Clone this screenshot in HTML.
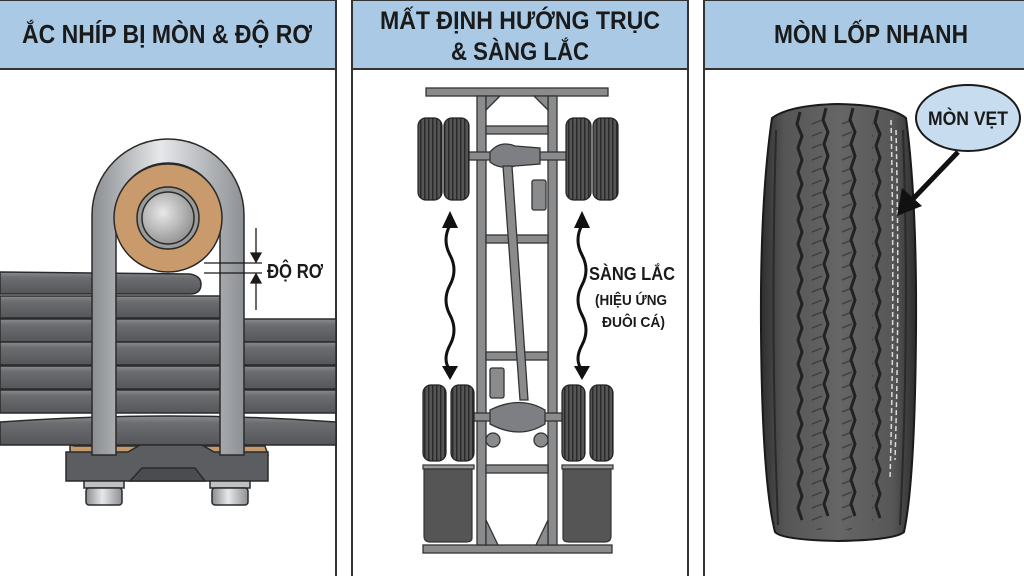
<!DOCTYPE html>
<html><head><meta charset="utf-8"><style>
html,body{margin:0;padding:0;background:#fff;}
svg{display:block;}
text{font-family:"Liberation Sans","Noto Sans CJK SC",sans-serif;font-weight:bold;fill:#1a1a1a;}
</style></head><body>
<svg width="1024" height="576" viewBox="0 0 1024 576" xmlns="http://www.w3.org/2000/svg">
<defs>
<linearGradient id="bolt" x1="0" x2="1"><stop offset="0" stop-color="#8a8d91"/><stop offset="0.45" stop-color="#e6e8ea"/><stop offset="1" stop-color="#8d9094"/></linearGradient>
<linearGradient id="leaf" x1="0" y1="0" x2="0" y2="1"><stop offset="0" stop-color="#8a8c8f"/><stop offset="0.25" stop-color="#6b6d70"/><stop offset="1" stop-color="#545659"/></linearGradient>
<linearGradient id="tire" x1="0" x2="1"><stop offset="0" stop-color="#2e2e2e"/><stop offset="0.15" stop-color="#555"/><stop offset="0.5" stop-color="#666"/><stop offset="0.85" stop-color="#575757"/><stop offset="1" stop-color="#2e2e2e"/></linearGradient>
<radialGradient id="pin" cx="0.4" cy="0.4" r="0.7"><stop offset="0" stop-color="#e8e8e8"/><stop offset="1" stop-color="#8a8a8a"/></radialGradient>
<pattern id="tread" width="4" height="10" patternUnits="userSpaceOnUse"><rect width="4" height="10" fill="#555"/><rect width="1.5" height="10" fill="#2a2a2a"/></pattern>
<pattern id="blocks" width="30" height="24" patternUnits="userSpaceOnUse"><path d="M2 4 L12 0 M2 16 L12 12" stroke="#333" stroke-width="1.5" fill="none"/></pattern>
</defs>

<rect x="-2" y="0" width="338" height="578" fill="#fff" stroke="#333" stroke-width="2"/>
<rect x="352" y="0" width="336" height="578" fill="#fff" stroke="#333" stroke-width="2"/>
<rect x="704" y="0" width="322" height="578" fill="#fff" stroke="#333" stroke-width="2"/>
<rect x="-2" y="0" width="338" height="69" fill="#a9c9e5" stroke="#333" stroke-width="2"/>
<rect x="352" y="0" width="336" height="69" fill="#a9c9e5" stroke="#333" stroke-width="2"/>
<rect x="704" y="0" width="322" height="69" fill="#a9c9e5" stroke="#333" stroke-width="2"/>
<text x="167" y="43" font-size="26" text-anchor="middle" textLength="290" lengthAdjust="spacingAndGlyphs">ẮC NHÍP BỊ MÒN &amp; ĐỘ RƠ</text>
<text x="520" y="29" font-size="25" text-anchor="middle" textLength="280" lengthAdjust="spacingAndGlyphs">MẤT ĐỊNH HƯỚNG TRỤC</text>
<text x="520" y="60" font-size="25" text-anchor="middle" textLength="138" lengthAdjust="spacingAndGlyphs">&amp; SÀNG LẮC</text>
<text x="871" y="43" font-size="26" text-anchor="middle" textLength="194" lengthAdjust="spacingAndGlyphs">MÒN LỐP NHANH</text>

<g stroke="#2a2a2a" stroke-width="1.5">
<path d="M0 272 L190 274 Q201 276 201 284 Q201 294 190 294 L0 294 Z" fill="url(#leaf)"/>
<rect x="0" y="296" width="220" height="22" fill="url(#leaf)"/>
<rect x="0" y="319" width="336" height="23" fill="url(#leaf)"/>
<rect x="0" y="342" width="336" height="23" fill="url(#leaf)"/>
<rect x="0" y="366" width="336" height="23" fill="url(#leaf)"/>
<rect x="0" y="390" width="336" height="23" fill="url(#leaf)"/>
<path d="M0 422 Q170 410 336 422 L336 445 L0 445 Z" fill="url(#leaf)"/>
<path d="M70 445 L75 446 L265 446 L268 455 L70 455 Z" fill="#c49a6c"/>
<path d="M66 452 L128 452 L140 445 L202 445 L214 452 L268 452 L268 481 L66 481 Z" fill="#5b5d60"/>
<path d="M130 481 L142 468 L195 468 L205 481 Z" fill="#4a4c4f"/>
<rect x="84" y="481" width="40" height="7" fill="#bfc1c3"/>
<rect x="86" y="488" width="36" height="17" rx="3" fill="url(#bolt)"/>
<rect x="210" y="481" width="40" height="7" fill="#bfc1c3"/>
<rect x="212" y="488" width="36" height="17" rx="3" fill="url(#bolt)"/>
<path d="M92 455 L92 215 A76 76 0 0 1 244 215 L244 455 L220 455 L220 215 A52 52 0 0 0 116 215 L116 455 Z" fill="url(#bolt)"/>
<circle cx="168" cy="218" r="54" fill="#c99b6c"/>
<circle cx="168" cy="218" r="31" fill="#9a9a9a"/>
<circle cx="168" cy="218" r="26" fill="url(#pin)"/>
</g>
<g stroke="#1a1a1a" stroke-width="1.3" fill="#1a1a1a">
<line x1="204" y1="263" x2="262" y2="263"/>
<line x1="204" y1="273" x2="262" y2="273"/>
<line x1="256" y1="228" x2="256" y2="260"/>
<path d="M251 253 L256 262 L261 253 Z"/>
<line x1="256" y1="276" x2="256" y2="310"/>
<path d="M251 283 L256 274 L261 283 Z"/>
</g>
<text x="267" y="278" font-size="20" textLength="56" lengthAdjust="spacingAndGlyphs">ĐỘ RƠ</text>

<g stroke="#333" stroke-width="1.3" fill="#8a8b8d">
<rect x="426" y="88" width="182" height="8"/>
<rect x="423" y="545" width="189" height="8"/>
<rect x="477" y="96" width="9" height="449"/>
<rect x="548" y="96" width="9" height="449"/>
<rect x="486" y="126" width="62" height="8"/>
<rect x="486" y="235" width="62" height="8"/>
<rect x="486" y="352" width="62" height="8"/>
<rect x="486" y="465" width="62" height="8"/>
<path d="M486 96 L500 96 L486 110 Z M548 96 L534 96 L548 110 Z M486 520 L498 545 L486 545 Z M548 520 L536 545 L548 545 Z"/>
<rect x="466" y="152" width="102" height="8"/>
<path d="M490 152 Q500 140 515 146 L540 148 L540 164 L515 166 Q500 170 490 162 Z" fill="#7e7f82"/>
<path d="M503 166 L512 166 L528 400 L520 400 Z"/>
<rect x="532" y="180" width="14" height="30" rx="2"/>
<rect x="470" y="413" width="96" height="8"/>
<path d="M490 410 Q520 395 545 410 L545 424 Q520 440 490 424 Z" fill="#7e7f82"/>
<circle cx="493" cy="440" r="7"/><circle cx="541" cy="440" r="7"/>
<rect x="490" y="368" width="14" height="30" rx="2"/>
</g>
<g stroke="#222" stroke-width="1.2" fill="url(#tread)">
<rect x="418" y="118" width="24" height="82" rx="8"/>
<rect x="444" y="118" width="25" height="82" rx="8"/>
<rect x="566" y="118" width="25" height="82" rx="8"/>
<rect x="593" y="118" width="25" height="82" rx="8"/>
<rect x="423" y="385" width="23" height="76" rx="8"/>
<rect x="451" y="385" width="23" height="76" rx="8"/>
<rect x="562" y="385" width="23" height="76" rx="8"/>
<rect x="590" y="385" width="23" height="76" rx="8"/>
</g>
<g stroke="#333" stroke-width="1.2">
<rect x="423" y="465" width="51" height="4" fill="#999"/>
<rect x="562" y="465" width="51" height="4" fill="#999"/>
<path d="M424 469 L472 469 L472 538 Q472 542 466 542 L430 542 Q424 542 424 536 Z" fill="#555"/>
<path d="M563 469 L611 469 L611 536 Q611 542 605 542 L569 542 Q563 542 563 538 Z" fill="#555"/>
</g>
<g fill="none" stroke="#111" stroke-width="3">
<path d="M450 225 Q442 240 450 255 Q458 270 450 285 Q442 300 450 315 Q458 330 450 345 Q442 360 450 370"/>
<path d="M582 225 Q574 240 582 255 Q590 270 582 285 Q574 300 582 315 Q590 330 582 345 Q574 360 582 370"/>
</g>
<g fill="#111">
<path d="M442 228 L450 211 L458 228 Z"/><path d="M442 366 L450 380 L458 366 Z"/>
<path d="M574 228 L582 211 L590 228 Z"/><path d="M574 366 L582 380 L590 366 Z"/>
</g>
<text x="589" y="280" font-size="18" textLength="86" lengthAdjust="spacingAndGlyphs">SÀNG LẮC</text>
<text x="595" y="305" font-size="15" textLength="72" lengthAdjust="spacingAndGlyphs">(HIỆU ỨNG</text>
<text x="602" y="327" font-size="15" textLength="63" lengthAdjust="spacingAndGlyphs">ĐUÔI CÁ)</text>

<path d="M772 118 Q790 105 838 104 Q890 105 906 118 Q917 200 916 330 Q915 480 904 532 Q895 540 838 541 Q782 540 775 532 Q762 480 761 330 Q760 200 772 118 Z" fill="url(#tire)" stroke="#1a1a1a" stroke-width="2"/>
<rect x="803" y="115" width="70" height="415" fill="url(#blocks)" opacity="0.7"/>
<g fill="none" stroke="#222" stroke-width="3">
<path d="M800 112 l-3 12 l5 12 l-4 12 l4 12 l-4 12 l4 12 l-4 12 l4 12 l-4 12 l4 12 l-4 12 l4 12 l-4 12 l4 12 l-4 12 l4 12 l-4 12 l4 12 l-4 12 l4 12 l-4 12 l4 12 l-4 12 l4 12 l-4 12 l4 12 l-4 12 l4 12 l-4 12 l4 12 l-4 12 l4 12 l-4 12 l4 12"/>
<path d="M826 108 l-3 12 l5 12 l-4 12 l4 12 l-4 12 l4 12 l-4 12 l4 12 l-4 12 l4 12 l-4 12 l4 12 l-4 12 l4 12 l-4 12 l4 12 l-4 12 l4 12 l-4 12 l4 12 l-4 12 l4 12 l-4 12 l4 12 l-4 12 l4 12 l-4 12 l4 12 l-4 12 l4 12 l-4 12 l4 12 l-4 12 l4 12"/>
<path d="M853 108 l-3 12 l5 12 l-4 12 l4 12 l-4 12 l4 12 l-4 12 l4 12 l-4 12 l4 12 l-4 12 l4 12 l-4 12 l4 12 l-4 12 l4 12 l-4 12 l4 12 l-4 12 l4 12 l-4 12 l4 12 l-4 12 l4 12 l-4 12 l4 12 l-4 12 l4 12 l-4 12 l4 12 l-4 12 l4 12 l-4 12 l4 12"/>
<path d="M878 110 l-3 12 l5 12 l-4 12 l4 12 l-4 12 l4 12 l-4 12 l4 12 l-4 12 l4 12 l-4 12 l4 12 l-4 12 l4 12 l-4 12 l4 12 l-4 12 l4 12 l-4 12 l4 12 l-4 12 l4 12 l-4 12 l4 12 l-4 12 l4 12 l-4 12 l4 12 l-4 12 l4 12 l-4 12 l4 12 l-4 12 l4 12"/>
</g>
<g fill="none" stroke="#dcdcdc" stroke-width="1.5" stroke-dasharray="5 3">
<path d="M891 120 Q895 300 890 480"/><path d="M896 130 Q900 300 895 460"/>
</g>
<g fill="none" stroke="#2a2a2a" stroke-width="2">
<path d="M776 130 Q770 330 778 525"/><path d="M903 130 Q910 330 900 525"/>
</g>
<ellipse cx="968" cy="118" rx="52" ry="33" fill="#c7dcef" stroke="#1a1a1a" stroke-width="2"/>
<text x="968" y="125" font-size="19" text-anchor="middle" textLength="80" lengthAdjust="spacingAndGlyphs">MÒN VẸT</text>
<line x1="958" y1="152" x2="912" y2="200" stroke="#111" stroke-width="5"/>
<path d="M897 216 L902 188 L922 206 Z" fill="#111"/>
</svg>
</body></html>
